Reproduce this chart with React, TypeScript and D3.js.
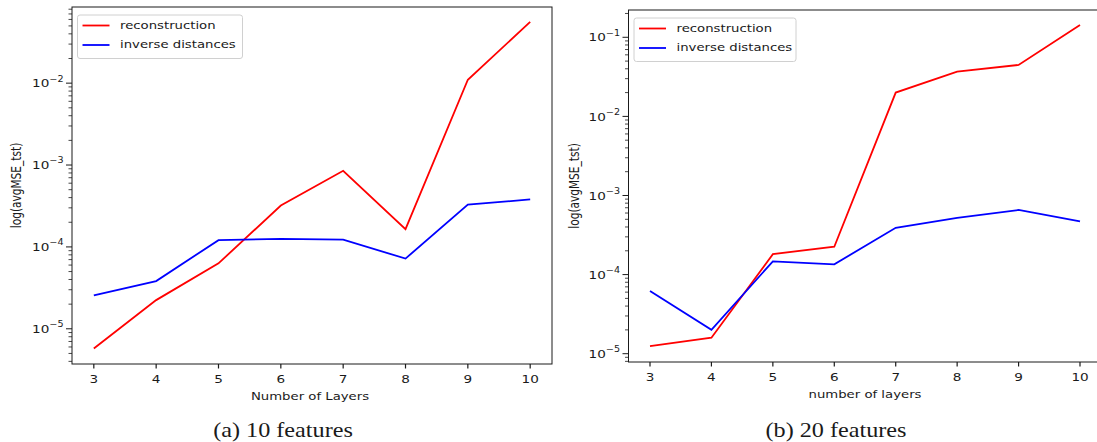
import * as d3 from "d3";
import type { ReactNode } from "react";

// x values: number of layers
const layers = [3, 4, 5, 6, 7, 8, 9, 10];

// (a) 10 features
const recon10 = [5.75e-6, 2.24e-5, 6.3e-5, 3.2e-4, 8.5e-4, 1.65e-4, 1.1e-2, 5.6e-2];
const invDist10 = [2.56e-5, 3.83e-5, 1.21e-4, 1.25e-4, 1.23e-4, 7.2e-5, 3.28e-4, 3.8e-4];

// (b) 20 features
const recon20 = [1.25e-5, 1.59e-5, 1.81e-4, 2.25e-4, 2.0e-2, 3.67e-2, 4.47e-2, 0.143];
const invDist20 = [6.2e-5, 2.0e-5, 1.47e-4, 1.35e-4, 3.9e-4, 5.2e-4, 6.56e-4, 4.7e-4];

const decadesA = [-5, -4, -3, -2];
const decadesB = [-5, -4, -3, -2, -1];

const FONT = "'DejaVu Sans', sans-serif";
const RED = "#ff0000";
const BLUE = "#0000ff";
const INK = "#1a1a1a";
// the figures were placed into the page a bit wider than tall
const SX = 1.25;
const FS = 10.6;

interface TProps {
  x: number;
  y: number;
  anchor?: "start" | "middle" | "end";
  rotate?: number;
  size?: number;
  sx?: number;
  family?: string;
  baseline?: "middle" | "auto";
  children: ReactNode;
}

// text drawn with the same horizontal stretch as the picture
function T({ x, y, anchor = "start", rotate = 0, size = FS, sx = SX, family = FONT, baseline = "middle", children }: TProps) {
  return (
    <text
      transform={`translate(${x},${y}) scale(${sx},1)${rotate ? ` rotate(${rotate})` : ""}`}
      textAnchor={anchor}
      dominantBaseline={baseline === "middle" ? "middle" : undefined}
      fontSize={size}
      fontFamily={family}
      fill={INK}
    >
      {children}
    </text>
  );
}

interface PanelProps {
  left: number;
  right: number;
  top: number;
  bottom: number;
  yMin: number;
  yMax: number;
  decades: number[];
  recon: number[];
  inv: number[];
  xLabel: string;
  xLabelCx: number;
  caption: string;
  captionCx: number;
  yLabelX: number;
  legendW: number;
}

function Panel(p: PanelProps) {
  const x = d3.scaleLinear().domain([2.65, 10.35]).range([p.left, p.right]);
  const y = d3
    .scaleLog()
    .domain([Math.pow(10, p.yMin), Math.pow(10, p.yMax)])
    .range([p.bottom, p.top]);

  const line = d3
    .line<number>()
    .x((_, i) => x(layers[i]))
    .y((d) => y(d));

  // minor ticks 2..9 x 10^k inside the domain
  const minor: number[] = [];
  for (let k = Math.floor(p.yMin); k <= Math.ceil(p.yMax); k++) {
    for (let m = 2; m <= 9; m++) {
      const v = m * Math.pow(10, k);
      const lv = Math.log10(v);
      if (lv >= p.yMin && lv <= p.yMax) minor.push(v);
    }
  }

  const midY = (p.top + p.bottom) / 2;
  const lx = p.left + 5.5;
  const ly = p.top + 8;

  return (
    <g>
      <path d={line(p.recon) ?? ""} fill="none" stroke={RED} strokeWidth={1.8} />
      <path d={line(p.inv) ?? ""} fill="none" stroke={BLUE} strokeWidth={1.8} />

      <rect
        x={p.left}
        y={p.top}
        width={p.right - p.left}
        height={p.bottom - p.top}
        fill="none"
        stroke={INK}
        strokeWidth={1}
      />

      {/* x ticks */}
      {layers.map((v) => (
        <g key={"x" + v}>
          <line x1={x(v)} x2={x(v)} y1={p.bottom} y2={p.bottom + 4.5} stroke={INK} strokeWidth={1.2} />
          <T x={x(v)} y={p.bottom + 16} anchor="middle" size={11.3} sx={1.2}>
            {v}
          </T>
        </g>
      ))}

      {/* y minor ticks */}
      {minor.map((v, i) => (
        <line key={"m" + i} x1={p.left - 3.5} x2={p.left} y1={y(v)} y2={y(v)} stroke={INK} strokeWidth={0.8} />
      ))}

      {/* y major ticks */}
      {p.decades.map((k) => {
        const yy = y(Math.pow(10, k));
        return (
          <g key={"y" + k}>
            <line x1={p.left - 6} x2={p.left} y1={yy} y2={yy} stroke={INK} />
            <T x={p.left - 8.5} y={yy + 4.2} anchor="end" size={11.3} sx={1.2} baseline="auto">
              10
              <tspan dy={-5.8} fontSize={8}>
                {"\u2212" + Math.abs(k)}
              </tspan>
            </T>
          </g>
        );
      })}

      {/* axis labels */}
      <T x={p.xLabelCx} y={p.bottom + 33} anchor="middle">
        {p.xLabel}
      </T>
      <T x={p.yLabelX} y={midY} anchor="middle" rotate={-90}>
        log(avgMSE_tst)
      </T>

      {/* legend */}
      <rect
        x={lx}
        y={ly}
        width={p.legendW}
        height={43.5}
        rx={2.5}
        fill="white"
        fillOpacity={0.8}
        stroke="#d0d0d0"
      />
      <line x1={lx + 5} x2={lx + 32} y1={ly + 10.5} y2={ly + 10.5} stroke={RED} strokeWidth={1.8} />
      <line x1={lx + 5} x2={lx + 32} y1={ly + 30} y2={ly + 30} stroke={BLUE} strokeWidth={1.8} />
      <T x={lx + 42.5} y={ly + 10.5}>reconstruction</T>
      <T x={lx + 42.5} y={ly + 30}>inverse distances</T>

      {/* caption */}
      <T
        x={p.captionCx}
        y={437}
        anchor="middle"
        size={22}
        sx={1.1}
        baseline="auto"
        family="'Liberation Serif', 'Times New Roman', serif"
      >
        {p.caption}
      </T>
    </g>
  );
}

export default function App() {
  return (
    <svg
      width={1097}
      height={442}
      style={{ position: "absolute", left: 0, top: 0, background: "white" }}
    >
      <Panel
        left={72}
        right={552}
        top={7}
        bottom={364}
        yMin={-5.43}
        yMax={-1.07}
        decades={decadesA}
        recon={recon10}
        inv={invDist10}
        xLabel="Number of Layers"
        xLabelCx={310}
        caption="(a) 10 features"
        captionCx={283}
        yLabelX={17}
        legendW={165}
      />
      <Panel
        left={628.5}
        right={1101.5}
        top={10}
        bottom={362}
        yMin={-5.105}
        yMax={-0.655}
        decades={decadesB}
        recon={recon20}
        inv={invDist20}
        xLabel="number of layers"
        xLabelCx={865}
        caption="(b) 20 features"
        captionCx={836}
        yLabelX={575}
        legendW={162}
      />
    </svg>
  );
}
